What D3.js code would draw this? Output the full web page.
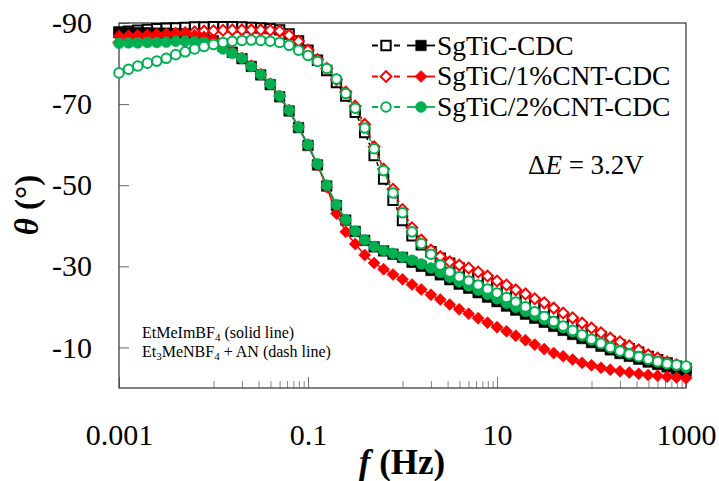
<!DOCTYPE html>
<html><head><meta charset="utf-8">
<script src="https://cdn.jsdelivr.net/npm/d3@7"></script>
<style>body{margin:0;background:#fff} svg{display:block} text{font-family:"Liberation Serif","Times New Roman",Times,serif;}</style>
</head><body>
<svg id="c" width="719" height="481"></svg>
<script>
// Frequencies (Hz)
const freq = [
  0.001, 0.00126, 0.00158, 0.002, 0.00251, 0.00316, 0.00398, 0.00501, 0.00631, 0.00794,
  0.01, 0.0126, 0.0158, 0.02, 0.0251, 0.0316, 0.0398, 0.0501, 0.0631, 0.0794,
  0.1, 0.126, 0.158, 0.2, 0.251, 0.316, 0.398, 0.501, 0.631, 0.794,
  1, 1.26, 1.58, 2, 2.51, 3.16, 3.98, 5.01, 6.31, 7.94,
  10, 12.6, 15.8, 20, 25.1, 31.6, 39.8, 50.1, 63.1, 79.4,
  100, 126, 158, 200, 251, 316, 398, 501, 631, 794,
  1000];

// EtMeImBF4 (solid line, filled markers)
const blackSolid = [
  -87.6, -87.6, -87.6, -87.6, -87.5, -87.5, -87.4, -87.3, -87.0, -86.5,
  -85.6, -84.3, -82.8, -81.2, -79.3, -77.2, -74.8, -71.8, -68.3, -64.2,
  -59.8, -55.0, -49.8, -45.0, -41.4, -38.6, -36.4, -34.8, -33.8, -33.0,
  -32.2, -31.0, -30.0, -29.0, -27.9, -26.7, -25.6, -24.6, -23.5, -22.4,
  -21.3, -20.2, -19.2, -18.2, -17.2, -16.2, -15.2, -14.2, -13.2, -12.2,
  -11.2, -10.3, -9.4, -8.5, -7.8, -7.1, -6.4, -5.8, -5.2, -4.6,
  -4.0];
const redSolid = [
  -86.8, -86.9, -87.0, -87.1, -87.2, -87.3, -87.3, -87.2, -87.0, -86.6,
  -85.8, -84.6, -83.1, -81.4, -79.5, -77.4, -75.0, -72.0, -68.5, -64.4,
  -60.0, -55.0, -49.5, -43.0, -38.5, -35.5, -32.8, -30.8, -29.3, -28.0,
  -26.8, -25.5, -24.3, -23.0, -21.8, -20.6, -19.4, -18.3, -17.2, -16.1,
  -15.0, -14.0, -12.9, -11.8, -10.7, -9.6, -8.6, -7.8, -7.0, -6.2,
  -5.6, -5.0, -4.5, -4.1, -3.8, -3.5, -3.2, -3.0, -2.8, -2.6,
  -2.4];
const greenSolid = [
  -85.0, -85.1, -85.1, -85.2, -85.2, -85.3, -85.5, -85.5, -85.4, -85.2,
  -84.7, -83.6, -82.5, -81.3, -79.3, -77.3, -75.0, -72.0, -68.5, -64.3,
  -60.0, -55.3, -50.0, -45.2, -41.5, -38.7, -36.5, -34.9, -33.9, -33.2,
  -32.3, -31.5, -30.6, -29.6, -28.5, -27.3, -26.2, -25.2, -24.1, -23.1,
  -22.0, -20.9, -19.9, -18.9, -17.9, -16.9, -15.9, -14.9, -13.9, -12.9,
  -11.9, -11.0, -10.1, -9.2, -8.5, -7.8, -7.1, -6.5, -6.0, -5.6,
  -5.1];

// Et3MeNBF4 + AN (dash line, open markers)
const blackDash = [
  -87.8, -88.0, -88.2, -88.4, -88.6, -88.7, -88.8, -88.9, -89.0, -89.0,
  -89.1, -89.1, -89.1, -89.0, -88.9, -88.8, -88.6, -88.3, -87.3, -85.6,
  -83.3, -80.8, -78.3, -75.3, -72.0, -68.0, -63.0, -57.3, -51.5, -46.3,
  -41.3, -37.5, -35.3, -33.6, -32.0, -30.8, -29.6, -28.5, -27.5, -26.4,
  -25.2, -24.2, -23.0, -22.0, -20.8, -19.8, -18.6, -17.4, -16.2, -15.0,
  -13.8, -12.7, -11.5, -10.6, -9.7, -8.8, -7.8, -7.0, -6.2, -5.4,
  -4.8];
const redDash = [
  -85.2, -85.6, -86.0, -86.4, -86.8, -87.1, -87.4, -87.6, -87.8, -88.0,
  -88.1, -88.2, -88.3, -88.3, -88.3, -88.3, -88.2, -88.0, -87.0, -85.5,
  -83.3, -81.0, -78.8, -76.0, -73.0, -69.5, -65.0, -59.5, -54.0, -49.0,
  -44.0, -39.5, -36.5, -34.0, -32.4, -31.1, -30.3, -29.6, -28.6, -27.6,
  -26.4, -25.4, -24.2, -23.2, -22.0, -21.0, -19.7, -18.5, -17.3, -16.0,
  -14.8, -13.6, -12.3, -11.4, -10.4, -9.4, -8.2, -7.4, -6.4, -5.7,
  -5.2];
const greenDash = [
  -77.7, -78.6, -79.4, -80.1, -80.6, -81.3, -82.2, -82.9, -83.6, -84.2,
  -84.7, -85.2, -85.5, -85.7, -85.8, -85.7, -85.5, -85.2, -84.5, -83.3,
  -82.0, -80.5, -78.8, -76.2, -72.6, -69.0, -64.1, -59.0, -53.6, -48.1,
  -43.2, -38.5, -35.6, -33.0, -30.3, -28.6, -27.4, -26.4, -25.4, -24.4,
  -23.4, -22.3, -21.2, -20.0, -18.8, -17.6, -16.4, -15.3, -14.2, -13.1,
  -12.0, -11.0, -10.0, -9.1, -8.4, -7.7, -7.1, -6.5, -6.0, -5.7,
  -5.4];

const seriesNames = ["SgTiC-CDC", "SgTiC/1%CNT-CDC", "SgTiC/2%CNT-CDC"];
const xMajorTicks = [0.001, 0.1, 10, 1000];
const xMajorLabels = ["0.001", "0.1", "10", "1000"];
const xMinorTicks = [0.01,0.02,0.03,0.04,0.05,0.06,0.07,0.08,0.09,
                     1,2,3,4,5,6,7,8,9, 100,200,300,400,500,600,700,800,900];
const yTicks = [-90, -70, -50, -30, -10];

const svg = d3.select("#c");
const SERIF = '"Liberation Serif","Times New Roman",Times,serif';
const m = {l:119, t:23, r:686, b:388};
const x = d3.scaleLog().domain([0.001, 1000]).range([m.l, m.r]);
const y = d3.scaleLinear().domain([-90, 0]).range([m.t, m.b]);

// axes
const gx = svg.append("g").attr("transform", `translate(0,${m.b})`)
  .call(d3.axisBottom(x).tickValues(xMajorTicks).tickSize(-11).tickPadding(36)
    .tickFormat((d,i)=>xMajorLabels[i]));
gx.attr("font-family", null);
gx.select(".domain").remove();
gx.selectAll("line").attr("stroke","#777");
gx.selectAll("text").style("font-family",SERIF).style("font-size","30px").attr("fill","#000");
const gxm = svg.append("g").attr("transform", `translate(0,${m.b})`)
  .call(d3.axisBottom(x).tickValues(xMinorTicks).tickSize(-7).tickFormat(""));
gxm.select(".domain").remove();
gxm.selectAll("line").attr("stroke","#888");

const gy = svg.append("g").attr("transform", `translate(${m.l},0)`)
  .call(d3.axisLeft(y).tickValues(yTicks).tickSize(-10).tickPadding(27)
    .tickFormat(d=>d3.format("d")(d).replace("\u2212","-")));
gy.attr("font-family", null);
gy.select(".domain").remove();
gy.selectAll("line").attr("stroke","#666");
gy.selectAll("text").style("font-family",SERIF).style("font-size","30px").attr("fill","#000");

// frame
svg.append("rect").attr("x",m.l).attr("y",m.t).attr("width",m.r-m.l).attr("height",m.b-m.t)
  .attr("fill","none").attr("stroke","#404040").attr("stroke-width",1.3);

function markerPath(shape, open){
  if (shape==="square") return d3.symbol().type(d3.symbolSquare).size(open ? 88 : 110)();
  if (shape==="diamond") return d3.symbol().type(d3.symbolSquare).size(open ? 58 : 72)();
  return d3.symbol().type(d3.symbolCircle).size(open ? 72 : 92)();
}
function drawMarker(g, shape, color, open, cx, cy){
  const p = g.append("path").attr("d", markerPath(shape, open))
    .attr("transform", `translate(${cx},${cy})` + (shape==="diamond" ? " rotate(45)" : ""));
  if (open) p.attr("fill","#fff").attr("stroke",color).attr("stroke-width",2);
  else p.attr("fill",color).attr("stroke",color).attr("stroke-width",0.6);
}

const line = d3.line().x((d,i)=>x(freq[i])).y(d=>y(d));
const series = [
  {vals: blackDash, color:"#000000", shape:"square", open:true},
  {vals: blackSolid, color:"#000000", shape:"square", open:false},
  {vals: redDash, color:"#FF0000", shape:"diamond", open:true},
  {vals: redSolid, color:"#FF0000", shape:"diamond", open:false},
  {vals: greenSolid, color:"#00B050", shape:"circle", open:false},
  {vals: greenDash, color:"#00B050", shape:"circle", open:true},
];
const plot = svg.append("g");
series.forEach(s=>{
  const g = plot.append("g");
  g.append("path").attr("d", line(s.vals)).attr("fill","none").attr("stroke",s.color)
    .attr("stroke-width",1.5).attr("stroke-dasharray", s.open ? "4,3" : null);
  s.vals.forEach((v,i)=>drawMarker(g, s.shape, s.color, s.open, x(freq[i]), y(v)));
});

// legend
const legRows = [
  {name: seriesNames[0], color:"#000000", shape:"square", cy:45.5, by:54.5},
  {name: seriesNames[1], color:"#FF0000", shape:"diamond", cy:76.5, by:85},
  {name: seriesNames[2], color:"#00B050", shape:"circle", cy:107, by:115.7},
];
const leg = svg.append("g");
legRows.forEach(r=>{
  leg.append("line").attr("x1",372).attr("x2",400).attr("y1",r.cy).attr("y2",r.cy)
    .attr("stroke",r.color).attr("stroke-width",1.8).attr("stroke-dasharray","6,16");
  drawMarker(leg, r.shape, r.color, true, 386, r.cy);
  leg.append("line").attr("x1",407).attr("x2",435).attr("y1",r.cy).attr("y2",r.cy)
    .attr("stroke",r.color).attr("stroke-width",1.8);
  drawMarker(leg, r.shape, r.color, false, 421, r.cy);
  leg.append("text").attr("x",437).attr("y",r.by).style("font-family",SERIF)
    .style("font-size","27.5px").attr("fill","#000").text(r.name);
});

// Delta E annotation
const de = svg.append("text").attr("x",528).attr("y",174).style("font-family",SERIF)
  .style("font-size","27px").attr("fill","#000");
de.append("tspan").text("\u0394");
de.append("tspan").attr("font-style","italic").text("E");
de.append("tspan").text(" = 3.2V");

// electrolyte annotation
const a1 = svg.append("text").attr("x",142).attr("y",337.5).style("font-family",SERIF)
  .style("font-size","16px").attr("fill","#000");
a1.append("tspan").text("EtMeImBF");
a1.append("tspan").style("font-size","11px").attr("dy",3).text("4");
a1.append("tspan").attr("dy",-3).text(" (solid line)");
const a2 = svg.append("text").attr("x",142).attr("y",356.5).style("font-family",SERIF)
  .style("font-size","16px").attr("fill","#000");
a2.append("tspan").text("Et");
a2.append("tspan").style("font-size","11px").attr("dy",3).text("3");
a2.append("tspan").attr("dy",-3).text("MeNBF");
a2.append("tspan").style("font-size","11px").attr("dy",3).text("4");
a2.append("tspan").attr("dy",-3).text(" + AN (dash line)");

// axis titles
const xt = svg.append("text").attr("x",402).attr("y",474).attr("text-anchor","middle")
  .style("font-family",SERIF).style("font-size","35px").attr("font-weight","bold").attr("fill","#000");
xt.append("tspan").attr("font-style","italic").text("f");
xt.append("tspan").text(" (Hz)");

const yt = svg.append("text").attr("transform","translate(38,205) rotate(-90)")
  .attr("text-anchor","middle").style("font-family",SERIF).style("font-size","33px")
  .attr("font-weight","bold").attr("fill","#000");
yt.append("tspan").attr("font-style","italic").text("\u03B8");
yt.append("tspan").text(" (\u00B0)");
</script>
</body></html>
